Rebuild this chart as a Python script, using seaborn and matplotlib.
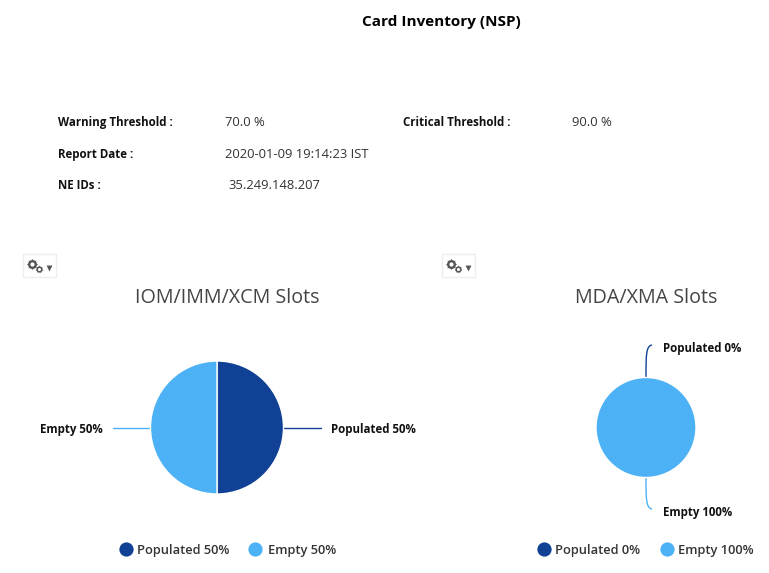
import numpy as np
import seaborn as sns
import matplotlib.pyplot as plt
from matplotlib.patches import Rectangle, PathPatch
from matplotlib.path import Path

W, H = 769, 573

slice_names = ['Populated', 'Empty']
iom_values = [50, 50]
mda_values = [0, 100]
chart_titles = ['IOM/IMM/XCM Slots', 'MDA/XMA Slots']
info_rows = [
    ('Warning Threshold :', '70.0 %', 58, 225, 126),
    ('Critical Threshold :', '90.0 %', 403, 572, 126),
    ('Report Date :', '2020-01-09 19:14:23 IST', 58, 225, 158),
    ('NE IDs :', '35.249.148.207', 58, 228, 189),
]
colors = ['#114194', '#4db1f5']

sns.set_theme(style='white')
plt.rcParams['font.family'] = ['Open Sans', 'DejaVu Sans']
sns.set_palette(colors)

fig = plt.figure(figsize=(W / 100, H / 100), dpi=100, facecolor='white')

# whole figure in pixels, y going down like the screenshot
bg = fig.add_axes([0, 0, 1, 1])
bg.set_xlim(0, W)
bg.set_ylim(H, 0)
bg.axis('off')


def draw_pie(values, cx, cy, r):
    ax = fig.add_axes([(cx - r) / W, 1 - (cy + r) / H, 2 * r / W, 2 * r / H])
    wedges, _ = ax.pie(values, colors=sns.color_palette(n_colors=2), startangle=90,
                       counterclock=False, radius=1,
                       wedgeprops={'edgecolor': 'white', 'linewidth': 1.0})
    ax.set_xlim(-1, 1)
    ax.set_ylim(-1, 1)
    return wedges


def gear_button(x):
    bg.add_patch(Rectangle((x, 254), 33, 23, fc='white', ec='#eeeeee', lw=1))
    # two small gears and the drop arrow
    bg.scatter([x + 9], [263.5], s=70, marker=(8, 1, 0), color='#555555', linewidths=0)
    bg.scatter([x + 9], [263.5], s=42, color='#555555', linewidths=0)
    bg.scatter([x + 9], [263.5], s=9, color='white', linewidths=0)
    bg.scatter([x + 16], [269], s=34, marker=(7, 1, 0), color='#555555', linewidths=0)
    bg.scatter([x + 16], [269], s=20, color='#555555', linewidths=0)
    bg.scatter([x + 16], [269], s=5, color='white', linewidths=0)
    bg.scatter([x + 26], [268], s=18, marker='v', color='#555555', linewidths=0)


def legend_row(values, x_dots, x_text, y=554):
    for name, val, c, xd, xt in zip(slice_names, values, colors, x_dots, x_text):
        bg.scatter([xd], [549], s=105, color=c, linewidths=0)
        bg.text(xt, y, f'{name} {val}%', fontsize=9.3, fontweight='semibold', color='#333333',
                ha='left', va='baseline')


for label, value, xl, xv, y in info_rows:
    bg.text(xl, y, label, fontsize=8.3, fontweight='bold', color='#111111', ha='left', va='baseline')
    bg.text(xv, y, value, fontsize=9.35, color='#333333', ha='left', va='baseline')

bg.text(441.5, 26, 'Card Inventory (NSP)', fontsize=11, fontweight='bold', color='black',
        ha='center', va='baseline')

gear_button(23)
gear_button(442)
bg.text(227.5, 303, chart_titles[0], fontsize=14.2, color='#444444', ha='center', va='baseline')
bg.text(646, 303, chart_titles[1], fontsize=14.2, color='#444444', ha='center', va='baseline')

# left pie, labels straight out
draw_pie(iom_values, 217, 427.5, 66.5)
bg.plot([283, 321], [427.5, 427.5], color=colors[0], lw=1)
bg.plot([113, 151], [427.5, 427.5], color=colors[1], lw=1)
bg.text(331, 433, f'{slice_names[0]} {iom_values[0]}%', fontsize=8.3, fontweight='bold',
        color='#111111', ha='left', va='baseline')
bg.text(103, 433, f'{slice_names[1]} {iom_values[1]}%', fontsize=8.3, fontweight='bold',
        color='#111111', ha='right', va='baseline')
legend_row(iom_values, [126, 255], [137, 268])

# right pie, labels on curved leaders
draw_pie(mda_values, 646, 427.5, 50)
up = Path([(646, 377), (646, 355), (646, 346), (652, 345)],
          [Path.MOVETO, Path.CURVE4, Path.CURVE4, Path.CURVE4])
down = Path([(646, 477), (646, 499), (646, 508), (652, 509)],
            [Path.MOVETO, Path.CURVE4, Path.CURVE4, Path.CURVE4])
bg.add_patch(PathPatch(up, fc='none', ec=colors[0], lw=1))
bg.add_patch(PathPatch(down, fc='none', ec=colors[1], lw=1))
bg.text(663, 352, f'{slice_names[0]} {mda_values[0]}%', fontsize=8.3, fontweight='bold',
        color='#111111', ha='left', va='baseline')
bg.text(663, 516, f'{slice_names[1]} {mda_values[1]}%', fontsize=8.3, fontweight='bold',
        color='#111111', ha='left', va='baseline')
legend_row(mda_values, [544, 667], [555, 678])

fig.savefig('out.png', dpi=100)
